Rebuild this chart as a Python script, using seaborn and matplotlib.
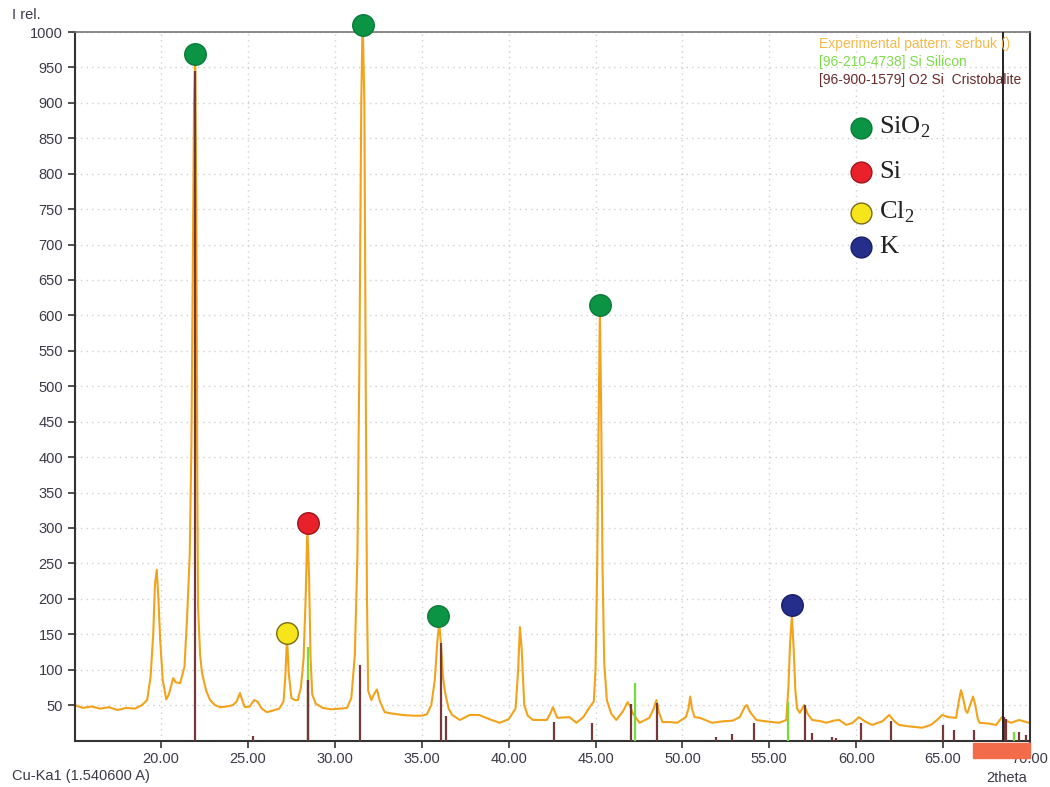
import matplotlib
matplotlib.use("Agg")
import matplotlib.pyplot as plt
import seaborn as sns
import pandas as pd
from matplotlib.patches import Rectangle
from matplotlib.ticker import FormatStrFormatter

sns.set_theme(style="white")
plt.rcParams['font.family'] = ['Liberation Sans', 'DejaVu Sans']
plt.rcParams['mathtext.fontset'] = 'custom'
plt.rcParams['mathtext.rm'] = 'Liberation Serif'

# experimental pattern
two_theta = [15.05, 15.5, 16.0, 16.5, 17.0, 17.5, 18.0, 18.5, 18.9, 19.2, 19.4, 19.55, 19.65,
             19.75, 19.85, 19.95, 20.1, 20.3, 20.45, 20.7, 20.85, 21.1, 21.35, 21.5, 21.65,
             21.75, 21.82, 21.9, 21.97, 22.03, 22.08, 22.13, 22.25, 22.36, 22.6, 22.82, 23.1,
             23.4, 23.8, 24.14, 24.35, 24.54, 24.7, 24.83, 25.1, 25.35, 25.55, 25.8, 26.09,
             26.4, 26.8, 27.05, 27.15, 27.25, 27.35, 27.5, 27.7, 27.87, 28.05, 28.2, 28.32,
             28.42, 28.52, 28.6, 28.7, 28.9, 29.3, 29.8, 30.3, 30.7, 30.95, 31.15, 31.3,
             31.42, 31.52, 31.6, 31.7, 31.78, 31.85, 31.92, 32.1, 32.25, 32.42, 32.6, 32.87,
             33.3, 33.9, 34.5, 35.0, 35.3, 35.55, 35.75, 35.9, 36.0, 36.1, 36.22, 36.35,
             36.55, 36.75, 37.2, 37.76, 38.3, 38.9, 39.48, 40.0, 40.4, 40.55, 40.65, 40.75,
             40.9, 41.1, 41.4, 42.2, 42.4, 42.55, 42.8, 43.5, 43.9, 44.3, 44.66, 44.9, 45.0,
             45.1, 45.18, 45.25, 45.32, 45.4, 45.5, 45.65, 45.9, 46.2, 46.6, 46.84, 47.0,
             47.13, 47.53, 48.1, 48.35, 48.5, 48.65, 48.85, 49.3, 49.7, 50.2, 50.35, 50.45,
             50.55, 50.7, 51.0, 51.7, 52.3, 52.9, 53.3, 53.6, 53.7, 53.9, 54.25, 54.8, 55.57,
             55.98, 56.1, 56.2, 56.3, 56.4, 56.5, 56.6, 56.75, 56.9, 57.0, 57.2, 57.47, 58.0,
             58.28, 58.7, 59.02, 59.43, 59.8, 60.15, 60.5, 60.92, 61.5, 61.9, 62.2, 62.47,
             63.0, 63.79, 64.3, 64.7, 64.94, 65.3, 65.75, 65.9, 66.03, 66.15, 66.3, 66.4,
             66.55, 66.72, 66.85, 67.0, 67.1, 67.6, 68.05, 68.39, 68.6, 68.91, 69.37, 69.94]
intensity = [50, 46, 48, 45, 47, 43, 46, 45, 50, 57, 90, 150, 220,
             241, 200, 142, 85, 58, 65, 88, 82, 81, 104, 174, 260,
             420, 650, 900, 965, 750, 400, 189, 120, 95, 70, 57, 50,
             47, 48, 50, 55, 67, 55, 47, 48, 57, 55, 45, 40,
             42, 45, 55, 90, 145, 95, 60, 57, 57, 75, 115, 200,
             300, 230, 120, 65, 52, 46, 44, 45, 46, 60, 120, 260,
             550, 900, 1020, 900, 500, 200, 70, 57, 65, 72, 55, 40,
             38, 36, 35, 35, 37, 50, 85, 140, 165, 140, 90, 67,
             45, 36, 29, 36, 36, 30, 25, 30, 45, 100, 160, 130,
             50, 35, 29, 29, 38, 47, 32, 33, 25, 33, 47, 55, 100,
             250, 450, 605, 480, 250, 110, 57, 38, 29, 42, 54, 48,
             39, 25, 32, 45, 57, 40, 26, 26, 25, 33, 45, 62,
             45, 33, 32, 25, 27, 28, 33, 48, 50, 40, 29, 27, 25,
             29, 76, 140, 175, 130, 70, 45, 39, 45, 50, 38, 29, 27,
             25, 28, 29, 22, 25, 33, 27, 22, 27, 36, 27, 22,
             20, 18, 22, 30, 36, 33, 32, 55, 71, 60, 42, 39,
             50, 62, 50, 30, 25, 24, 22, 33, 28, 25, 29, 25]

# [96-900-1579] O2 Si Cristobalite reference lines
crist_pos = [21.95, 25.3, 28.45, 31.45, 36.12, 36.38, 42.64, 44.77, 47.07, 48.56, 51.95,
             52.87, 54.14, 57.07, 57.47, 58.6, 58.85, 60.25, 62.01, 65.02, 65.63, 66.78,
             68.5, 68.6, 69.37, 69.75]
crist_int = [945, 6, 85, 107, 138, 35, 26, 25, 52, 53, 5,
             9, 25, 50, 11, 5, 4, 25, 28, 22, 15, 15,
             33, 30, 12, 8]

# [96-210-4738] Si Silicon reference lines
si_pos = [28.45, 47.3, 56.05, 69.08]
si_int = [132, 81, 55, 12]

# phase markers
marker_x = [21.95, 31.6, 28.45, 27.25, 35.95, 45.25, 56.3]
marker_y = [969, 1010, 307, 152, 176, 615, 191]
marker_phase = ['SiO2', 'SiO2', 'Si', 'Cl2', 'SiO2', 'SiO2', 'K']

phases = ['SiO2', 'Si', 'Cl2', 'K']
phase_labels = ['SiO$_2$', 'Si', 'Cl$_2$', 'K']
phase_colors = {'SiO2': '#0b9444', 'Si': '#e8212b', 'Cl2': '#f7e51b', 'K': '#262e8c'}
phase_edges = {'SiO2': '#0a7a38', 'Si': '#a0141c', 'Cl2': '#7a6a18', 'K': '#1a1f66'}

cursor_pos = 68.45

df = pd.DataFrame({'2theta': two_theta, 'I': intensity})

fig = plt.figure(figsize=(10.5, 7.87), dpi=100)
ax = fig.add_axes([75 / 1050, 1 - 740.5 / 787, 955 / 1050, 708.5 / 787])

ax.grid(True, linestyle=(0, (1, 3)), color='#d0d0d0', lw=1)
ax.set_axisbelow(True)

sns.lineplot(data=df, x='2theta', y='I', ax=ax, color='#f2a31b', lw=1.5, zorder=2)

ax.vlines(crist_pos, 0, crist_int, color='#74393b', lw=1.6, zorder=3)
ax.vlines(si_pos, 0, si_int, color='#74dd3c', lw=1.6, zorder=3)
# the cristobalite stick covers the lower part of the Si stick at 28.45
ax.vlines([28.45], 0, [85], color='#74393b', lw=1.6, zorder=3)
ax.axvline(cursor_pos, color='#222222', lw=1.4, zorder=4)

for x, y, p in zip(marker_x, marker_y, marker_phase):
    ax.plot(x, y, 'o', ms=15.5, mfc=phase_colors[p], mec=phase_edges[p], mew=1,
            clip_on=False, zorder=6)

# phase key
for i, (p, lab) in enumerate(zip(phases, phase_labels)):
    yk = [865, 803, 745, 697][i]
    ax.plot(60.3, yk, 'o', ms=15, mfc=phase_colors[p], mec=phase_edges[p], mew=1, zorder=6)
    ax.text(61.3, yk, lab, fontsize=19, family='Liberation Serif', color='#222222',
            va='center', ha='left', zorder=6)

ax.set_xlim(15.05, 70)
ax.set_ylim(0, 1000)
ax.set_xticks([20, 25, 30, 35, 40, 45, 50, 55, 60, 65, 70])
ax.set_yticks(list(range(50, 1001, 50)))
ax.xaxis.set_major_formatter(FormatStrFormatter('%.2f'))
ax.tick_params(axis='both', which='major', direction='out', length=5, width=1.2,
               color='#333333', labelsize=10.5, labelcolor='#3a3a48', bottom=True, left=True)
ax.set_xlabel('')
ax.set_ylabel('')

for s in ['left', 'bottom', 'right']:
    ax.spines[s].set_color('#333333')
    ax.spines[s].set_linewidth(1.5)
ax.spines['top'].set_color('#777777')
ax.spines['top'].set_linewidth(1.2)

# pattern captions
fig.text(819 / 1050, 1 - 44 / 787, 'Experimental pattern: serbuk ()', fontsize=10,
         color='#f5b94a', va='center')
fig.text(819 / 1050, 1 - 62 / 787, '[96-210-4738] Si Silicon', fontsize=10,
         color='#7ddc4a', va='center')
fig.text(819 / 1050, 1 - 80 / 787, '[96-900-1579] O2 Si  Cristobalite', fontsize=10,
         color='#6a2a2a', va='center')

fig.text(12 / 1050, 1 - 15 / 787, 'I rel.', fontsize=10.5, color='#3a3a48', va='center')
fig.text(12 / 1050, 1 - 776 / 787, 'Cu-Ka1 (1.540600 A)', fontsize=10.5, color='#3a3a48',
         va='center')
fig.text(1027 / 1050, 1 - 778 / 787, '2theta', fontsize=10.5, color='#3a3a48', va='center',
         ha='right')

fig.patches.append(Rectangle((973 / 1050, 1 - 758 / 787), 57 / 1050, 15 / 787,
                             transform=fig.transFigure, color='#f26b4b', zorder=10))

fig.savefig('out.png', dpi=100)
